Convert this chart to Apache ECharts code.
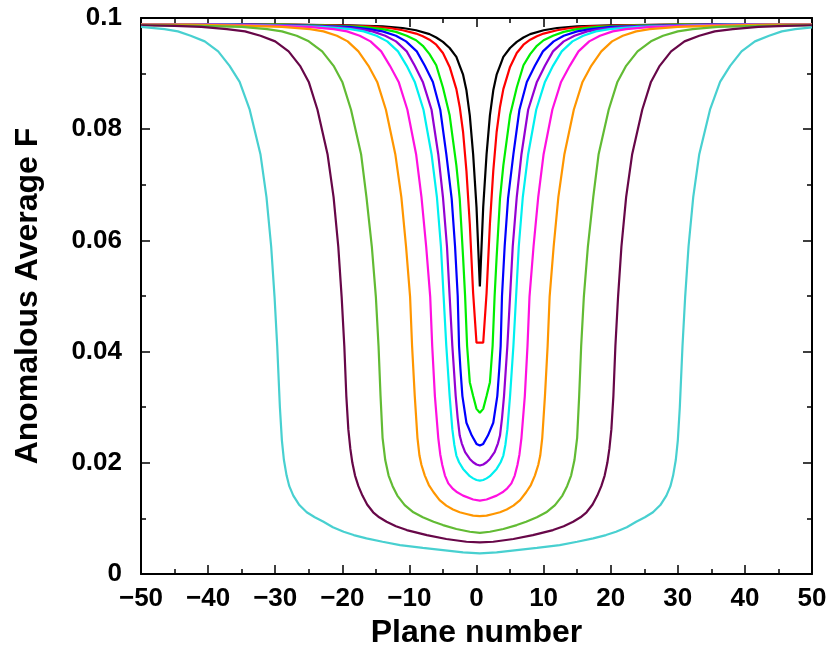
<!DOCTYPE html>
<html>
<head>
<meta charset="utf-8">
<script src="https://cdn.jsdelivr.net/npm/echarts@6/dist/echarts.min.js"></script>
<style>html,body{margin:0;padding:0;background:#fff;}#c{width:831px;height:654px;}</style>
</head>
<body>
<div id="c"></div>
<script>
// x tick labels / y tick labels
const xTicks = [-50,-40,-30,-20,-10,0,10,20,30,40,50];
const yTicks = [0,0.02,0.04,0.06,0.08,0.1];

// Curves: [plane number, anomalous average F]
const black = [[-50,0.0988],[-29,0.0988],[-19,0.0987],[-14,0.0985],[-11,0.0982],[-9,0.0978],[-7,0.0971],[-6,0.0965],[-5,0.0957],[-4,0.0946],[-3,0.0930],[-2.5,0.0914],[-2,0.0898],[-1.5,0.0870],[-1,0.0825],[-0.5,0.0755],[0,0.0660],[0.5,0.0517],[1,0.0660],[1.5,0.0755],[2,0.0825],[2.5,0.0870],[3,0.0898],[3.5,0.0914],[4,0.0930],[5,0.0946],[6,0.0957],[7,0.0965],[8,0.0971],[10,0.0978],[12,0.0982],[15,0.0985],[20,0.0987],[30,0.0988],[50,0.0988]];
const red = [[-50,0.0988],[-29,0.0988],[-21,0.0987],[-16,0.0985],[-13,0.0982],[-11,0.0978],[-9,0.0972],[-8,0.0967],[-7,0.0961],[-6,0.0952],[-5,0.0937],[-4,0.0912],[-3,0.0872],[-2.5,0.0840],[-2,0.0795],[-1.5,0.0725],[-1,0.0630],[-0.5,0.0505],[0,0.0416],[1,0.0416],[1.5,0.0505],[2,0.0630],[2.5,0.0725],[3,0.0795],[3.5,0.0840],[4,0.0872],[5,0.0912],[6,0.0937],[7,0.0952],[8,0.0961],[9,0.0967],[10,0.0972],[12,0.0978],[14,0.0982],[17,0.0985],[22,0.0987],[30,0.0988],[50,0.0988]];
const green = [[-50,0.0988],[-29,0.0988],[-21,0.0986],[-17,0.0984],[-14,0.0980],[-12,0.0975],[-10.4,0.0968],[-9,0.0960],[-8,0.0950],[-7,0.0935],[-6,0.0915],[-5,0.0875],[-4,0.0825],[-3.5,0.0780],[-3,0.0735],[-2.5,0.0675],[-2,0.0570],[-1.7,0.0500],[-1.4,0.0410],[-1,0.0345],[-0.5,0.0320],[0,0.0297],[0.5,0.0290],[1,0.0297],[1.5,0.0320],[2,0.0345],[2.4,0.0410],[2.7,0.0500],[3,0.0570],[3.5,0.0675],[4,0.0735],[4.5,0.0780],[5,0.0825],[6,0.0875],[7,0.0915],[8,0.0935],[9,0.0950],[10,0.0960],[11.4,0.0968],[13,0.0975],[15,0.0980],[18,0.0984],[22,0.0986],[30,0.0988],[50,0.0988]];
const blue = [[-50,0.0988],[-34,0.0988],[-24,0.0986],[-19,0.0984],[-16,0.0980],[-14,0.0976],[-12,0.0968],[-10.5,0.0958],[-8.9,0.0940],[-7.7,0.0914],[-6.5,0.0885],[-5.4,0.0835],[-4.5,0.0755],[-3.7,0.0675],[-3.2,0.0590],[-2.8,0.0500],[-2.6,0.0410],[-2.4,0.0370],[-2.1,0.0320],[-1.5,0.0272],[-0.7,0.0249],[0,0.0234],[0.5,0.0231],[1,0.0234],[1.7,0.0249],[2.5,0.0272],[3.1,0.0320],[3.4,0.0370],[3.6,0.0410],[3.8,0.0500],[4.2,0.0590],[4.7,0.0675],[5.5,0.0755],[6.4,0.0835],[7.5,0.0885],[8.7,0.0914],[9.9,0.0940],[11.5,0.0958],[13,0.0968],[15,0.0976],[17,0.0980],[20,0.0984],[25,0.0986],[35,0.0988],[50,0.0988]];
const violet = [[-50,0.0988],[-34,0.0988],[-26,0.0986],[-21,0.0984],[-17.4,0.0980],[-15.5,0.0976],[-13.6,0.0968],[-12,0.0958],[-10.4,0.0940],[-9.2,0.0914],[-8,0.0885],[-6.7,0.0835],[-5.7,0.0755],[-5,0.0678],[-4.4,0.0589],[-4,0.0499],[-3.6,0.0410],[-3.1,0.0320],[-2.8,0.0280],[-2.5,0.0249],[-2.2,0.0235],[-1.7,0.0219],[-1,0.0207],[-0.5,0.0201],[0,0.0197],[0.5,0.0195],[1,0.0197],[1.5,0.0201],[2,0.0207],[2.7,0.0219],[3.2,0.0235],[3.5,0.0249],[3.8,0.0280],[4.1,0.0320],[4.6,0.0410],[5,0.0499],[5.4,0.0589],[6,0.0678],[6.7,0.0755],[7.7,0.0835],[9,0.0885],[10.2,0.0914],[11.4,0.0940],[13,0.0958],[14.6,0.0968],[16.5,0.0976],[18.4,0.0980],[22,0.0984],[27,0.0986],[35,0.0988],[50,0.0988]];
const cyan = [[-50,0.0988],[-37,0.0988],[-28,0.0986],[-23,0.0984],[-18.8,0.0980],[-16.8,0.0976],[-14.9,0.0968],[-13.3,0.0958],[-11.7,0.0940],[-10.4,0.0914],[-9.2,0.0885],[-7.9,0.0835],[-6.7,0.0755],[-5.9,0.0678],[-5.3,0.0589],[-4.9,0.0499],[-4.5,0.0410],[-4,0.0320],[-3.6,0.0260],[-3.3,0.0232],[-3,0.0213],[-2.6,0.0201],[-2,0.0189],[-1,0.0176],[-0.5,0.0172],[0,0.0169],[0.5,0.0168],[1,0.0169],[1.5,0.0172],[2,0.0176],[3,0.0189],[3.6,0.0201],[4,0.0213],[4.3,0.0232],[4.6,0.0260],[5,0.0320],[5.5,0.0410],[5.9,0.0499],[6.3,0.0589],[6.9,0.0678],[7.7,0.0755],[8.9,0.0835],[10.2,0.0885],[11.4,0.0914],[12.7,0.0940],[14.3,0.0958],[15.9,0.0968],[17.8,0.0976],[19.8,0.0980],[24,0.0984],[29,0.0986],[38,0.0988],[50,0.0988]];
const magenta = [[-50,0.0988],[-39,0.0988],[-30,0.0986],[-25,0.0984],[-21.3,0.0980],[-19.3,0.0976],[-17.4,0.0968],[-15.8,0.0958],[-14.2,0.0940],[-12.9,0.0914],[-11.6,0.0885],[-10.3,0.0835],[-9,0.0755],[-8.2,0.0678],[-7.5,0.0589],[-6.9,0.0499],[-6.6,0.0410],[-6.2,0.0320],[-5.7,0.0245],[-5.4,0.0215],[-5.1,0.0196],[-4.7,0.0177],[-4.2,0.0163],[-3.5,0.0153],[-3,0.0148],[-2,0.0141],[-0.5,0.0134],[0.5,0.0132],[1.5,0.0134],[3,0.0141],[4,0.0148],[4.5,0.0153],[5.2,0.0163],[5.7,0.0177],[6.1,0.0196],[6.4,0.0215],[6.7,0.0245],[7.2,0.0320],[7.6,0.0410],[7.9,0.0499],[8.5,0.0589],[9.2,0.0678],[10,0.0755],[11.3,0.0835],[12.6,0.0885],[13.9,0.0914],[15.2,0.0940],[16.8,0.0958],[18.4,0.0968],[20.3,0.0976],[22.3,0.0980],[26,0.0984],[31,0.0986],[40,0.0988],[50,0.0988]];
const orange = [[-50,0.0988],[-43,0.0988],[-34,0.0986],[-29,0.0984],[-24.8,0.0980],[-22.8,0.0976],[-20.8,0.0968],[-19.2,0.0958],[-17.6,0.0940],[-16.1,0.0914],[-14.8,0.0885],[-13.5,0.0835],[-12.1,0.0755],[-11.2,0.0678],[-10.5,0.0589],[-9.9,0.0499],[-9.6,0.0410],[-9.2,0.0320],[-8.8,0.0245],[-8.5,0.0213],[-8.2,0.0196],[-7.7,0.0177],[-7.1,0.0160],[-6.4,0.0147],[-5.5,0.0133],[-4.5,0.0123],[-3.5,0.0116],[-2.5,0.0111],[-1.5,0.0108],[-0.5,0.0105],[0.5,0.0104],[1.5,0.0105],[2.5,0.0108],[3.5,0.0111],[4.5,0.0116],[5.5,0.0123],[6.5,0.0133],[7.4,0.0147],[8.1,0.0160],[8.7,0.0177],[9.2,0.0196],[9.5,0.0213],[9.8,0.0245],[10.2,0.0320],[10.6,0.0410],[10.9,0.0499],[11.5,0.0589],[12.2,0.0678],[13.1,0.0755],[14.5,0.0835],[15.8,0.0885],[17.1,0.0914],[18.6,0.0940],[20.2,0.0958],[21.8,0.0968],[23.8,0.0976],[25.8,0.0980],[30,0.0984],[35,0.0986],[44,0.0988],[50,0.0988]];
const lightGreen = [[-50,0.0987],[-41,0.0986],[-35,0.0984],[-31.2,0.0980],[-29,0.0976],[-26.8,0.0968],[-25,0.0958],[-23,0.0940],[-21.3,0.0914],[-20,0.0885],[-18.7,0.0835],[-17.2,0.0755],[-16.4,0.0678],[-15.6,0.0589],[-15,0.0499],[-14.6,0.0410],[-14.3,0.0320],[-14,0.0245],[-13.6,0.0205],[-13.1,0.0177],[-12.5,0.0158],[-11.8,0.0141],[-10.7,0.0124],[-9.4,0.0111],[-8,0.0102],[-6.4,0.0094],[-5,0.0088],[-3,0.0081],[-1,0.0076],[0.5,0.0074],[2,0.0076],[4,0.0081],[6,0.0088],[7.4,0.0094],[9,0.0102],[10.4,0.0111],[11.7,0.0124],[12.8,0.0141],[13.5,0.0158],[14.1,0.0177],[14.6,0.0205],[15,0.0245],[15.3,0.0320],[15.6,0.0410],[16,0.0499],[16.6,0.0589],[17.4,0.0678],[18.2,0.0755],[19.7,0.0835],[21,0.0885],[22.3,0.0914],[24,0.0940],[26,0.0958],[27.8,0.0968],[30,0.0976],[32.2,0.0980],[36,0.0984],[42,0.0986],[50,0.0987]];
const maroon = [[-50,0.0987],[-45,0.0986],[-41,0.0984],[-37.2,0.0980],[-34.5,0.0976],[-32.2,0.0968],[-30,0.0958],[-28,0.0940],[-26.3,0.0914],[-25,0.0885],[-23.7,0.0835],[-22.2,0.0755],[-21.3,0.0678],[-20.6,0.0589],[-20.1,0.0499],[-19.7,0.0410],[-19.4,0.0320],[-19.1,0.0260],[-18.8,0.0225],[-18.5,0.0200],[-18.1,0.0177],[-17.6,0.0158],[-17,0.0141],[-16.3,0.0125],[-15.4,0.0111],[-14.5,0.0102],[-13.4,0.0094],[-12,0.0086],[-10.4,0.0079],[-7.4,0.0070],[-4.5,0.0063],[-1.5,0.0058],[0.5,0.0057],[2.5,0.0058],[5.5,0.0063],[8.4,0.0070],[11.4,0.0079],[13,0.0086],[14.4,0.0094],[15.5,0.0102],[16.4,0.0111],[17.3,0.0125],[18,0.0141],[18.6,0.0158],[19.1,0.0177],[19.5,0.0200],[19.8,0.0225],[20.1,0.0260],[20.4,0.0320],[20.7,0.0410],[21.1,0.0499],[21.6,0.0589],[22.3,0.0678],[23.2,0.0755],[24.7,0.0835],[26,0.0885],[27.3,0.0914],[29,0.0940],[31,0.0958],[33.2,0.0968],[35.5,0.0976],[38.2,0.0980],[42,0.0984],[46,0.0986],[50,0.0987]];
const turquoise = [[-50,0.0984],[-46.5,0.0980],[-44.5,0.0976],[-42.6,0.0968],[-40.5,0.0958],[-38.5,0.0940],[-36.8,0.0914],[-35.3,0.0885],[-33.8,0.0835],[-32.2,0.0755],[-31.3,0.0678],[-30.6,0.0589],[-30.1,0.0499],[-29.7,0.0410],[-29.3,0.0300],[-29,0.0240],[-28.7,0.0205],[-28.3,0.0177],[-27.9,0.0158],[-27.3,0.0141],[-26.4,0.0124],[-25.3,0.0111],[-24.1,0.0102],[-22.8,0.0094],[-21.4,0.0084],[-19.8,0.0076],[-18.3,0.0070],[-16.4,0.0064],[-14,0.0058],[-11.4,0.0052],[-8,0.0047],[-5,0.0043],[-2,0.0039],[0.5,0.0037],[3,0.0039],[6,0.0043],[9,0.0047],[12.4,0.0052],[15,0.0058],[17.4,0.0064],[19.3,0.0070],[20.8,0.0076],[22.4,0.0084],[23.8,0.0094],[25.1,0.0102],[26.3,0.0111],[27.4,0.0124],[28.3,0.0141],[28.9,0.0158],[29.3,0.0177],[29.7,0.0205],[30,0.0240],[30.3,0.0300],[30.7,0.0410],[31.1,0.0499],[31.6,0.0589],[32.3,0.0678],[33.2,0.0755],[34.8,0.0835],[36.3,0.0885],[37.8,0.0914],[39.5,0.0940],[41.5,0.0958],[43.6,0.0968],[45.5,0.0976],[47.5,0.0980],[50,0.0983]];

const curves = [black, red, green, blue, violet, cyan, magenta, orange, lightGreen, maroon, turquoise];
const colors = ['#000000','#ff0000','#00ee00','#0000ff','#9400d3','#00f0f0','#ff10e0','#ff9600','#62bb34','#670748','#48d0d0'];

const FONT = '"Liberation Sans", Arial, Helvetica, sans-serif';
const chart = echarts.init(document.getElementById('c'), null, {renderer: 'canvas'});

const tickFmtX = v => String(v).replace('-', '\u2212');
const tickFmtY = v => {
  const r = Math.round(v * 100) / 100;
  return r === 0 ? '0' : String(r);
};
const axisLine = {show: true, onZero: false, lineStyle: {color: '#000', width: 2}};
const axisTick = {show: true, inside: true, length: 9, lineStyle: {color: '#000', width: 1.5}};
const minorTick = {show: true, splitNumber: 2, length: 5, lineStyle: {color: '#000', width: 1.5}};

chart.setOption({
  animation: false,
  backgroundColor: '#fff',
  grid: {left: 141, right: 19, top: 18, bottom: 77, containLabel: false},
  xAxis: [{
    type: 'value', min: xTicks[0], max: xTicks[xTicks.length - 1], interval: 10,
    position: 'bottom',
    name: 'Plane number', nameLocation: 'middle', nameGap: 43,
    nameTextStyle: {fontFamily: FONT, fontWeight: 'bold', fontSize: 32, color: '#000'},
    axisLine, axisTick, minorTick,
    axisLabel: {fontFamily: FONT, fontWeight: 'bold', fontSize: 26, color: '#000', margin: 12, formatter: tickFmtX},
    splitLine: {show: false}, minorSplitLine: {show: false}
  }, {
    type: 'value', min: xTicks[0], max: xTicks[xTicks.length - 1], interval: 10,
    position: 'top', axisLine, axisTick, minorTick,
    axisLabel: {show: false}, splitLine: {show: false}
  }],
  yAxis: [{
    type: 'value', min: yTicks[0], max: yTicks[yTicks.length - 1], interval: 0.02,
    position: 'left',
    name: 'Anomalous Average F', nameLocation: 'middle', nameGap: 97,
    nameTextStyle: {fontFamily: FONT, fontWeight: 'bold', fontSize: 32, color: '#000'},
    axisLine, axisTick, minorTick,
    axisLabel: {fontFamily: FONT, fontWeight: 'bold', fontSize: 26, color: '#000', margin: 19, formatter: tickFmtY},
    splitLine: {show: false}
  }, {
    type: 'value', min: yTicks[0], max: yTicks[yTicks.length - 1], interval: 0.02,
    position: 'right', axisLine, axisTick, minorTick,
    axisLabel: {show: false}, splitLine: {show: false}
  }],
  series: curves.map((d, i) => ({
    type: 'line', data: d, xAxisIndex: 0, yAxisIndex: 0,
    showSymbol: false, symbol: 'none', smooth: false,
    lineStyle: {color: colors[i], width: 2.2}, itemStyle: {color: colors[i]},
    z: 2 + i
  }))
});
</script>
</body>
</html>
